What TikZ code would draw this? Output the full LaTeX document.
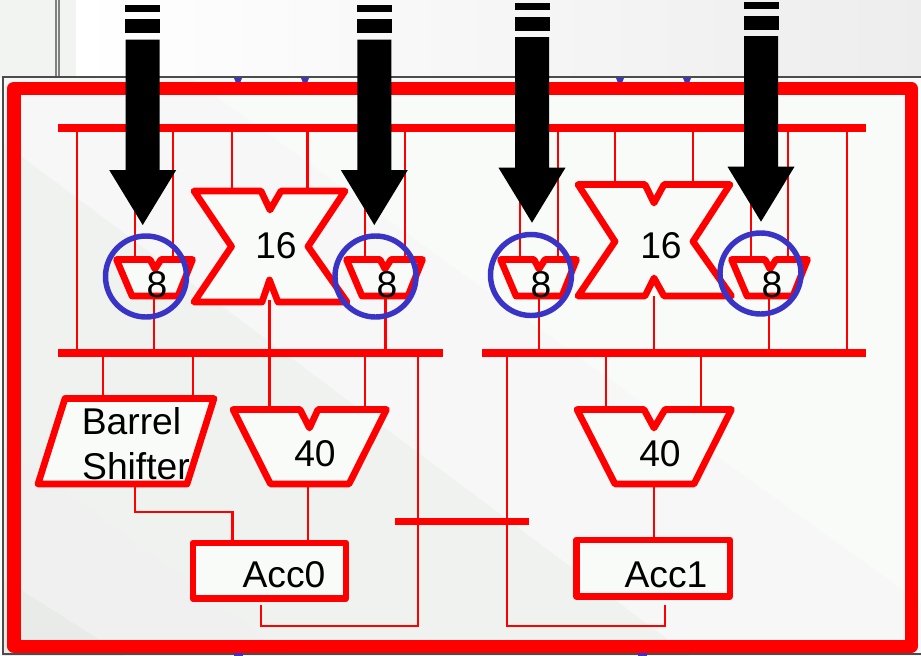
\documentclass[tikz,border=0pt]{standalone}
\usepackage{fontspec}
\setmainfont{Liberation Sans}
\definecolor{panelred}{HTML}{FF0000}
\definecolor{ringblue}{HTML}{3A34C6}
\definecolor{unitfill}{HTML}{F8FBF8}
\tikzset{
    busline/.style={panelred, line width=4.6pt},
    wire/.style={panelred, line width=1.6pt},
    unit/.style={draw=panelred, fill=unitfill, line width=3.8pt, line join=round},
    ring/.style={draw=ringblue, line width=3.1pt},
    tag/.style={font=\fontsize{21.2}{25}\selectfont, inner sep=0pt, text=black}
}
\begin{document}
\begin{tikzpicture}[x=0.02cm,y=-0.02cm]
    \useasboundingbox (0,0) rectangle (921,656);

    % Draw the backdrop
    \fill[color={rgb,255:red,242;green,244;blue,242}] (0,0) rectangle (921,78);
    \shade[left color=white, right color=black!7] (76,0) rectangle (921,77);
    \draw[gray, line width=0.6pt] (56,0) -- (56,77) (59,0) -- (59,77);

    % Draw the panel and its bands
    \fill[color={rgb,255:red,248;green,251;blue,248}] (2,78) rectangle (921,656);
    \fill[color={rgb,255:red,247;green,247;blue,248}] (2,78) -- (190,78) -- (921,603) -- (921,656) -- (2,656) -- cycle;
    \fill[color={rgb,255:red,239;green,242;blue,239}] (2,142) -- (690,656) -- (2,656) -- cycle;
    \fill[color={rgb,255:red,240;green,240;blue,240}] (2,445) -- (290,656) -- (2,656) -- cycle;
    \fill[color={rgb,255:red,233;green,235;blue,233}] (2,578) -- (125,656) -- (2,656) -- cycle;
    \draw[black!70, line width=0.7pt] (921,77) -- (3,77) -- (3,654) -- (921,654);

    % Blue ticks behind the frame
    \foreach \x in {238,305,620,687} {
        \fill[ringblue] (\x-4,78) -- (\x+4,78) -- (\x,88) -- cycle;
    }
    \foreach \x in {238,642} {
        \fill[ringblue] (\x-4.5,650) rectangle (\x+4.5,656);
    }
    \draw[panelred, line width=7.4pt, line join=round] (14,88) rectangle (911,646.5);

    % Bus ends
    \coordinate (busTopL) at (58,128);
    \coordinate (busTopR) at (866,128);
    \coordinate (busLeftL) at (58,353);
    \coordinate (busLeftR) at (443,353);
    \coordinate (busRightL) at (482,353);
    \coordinate (busRightR) at (866,353);
    \coordinate (crossL) at (395,521.5);
    \coordinate (crossR) at (529,521.5);

    % Wires from the top bus
    \foreach \x/\y in {77/353,135/260,173/260,232/190,307.5/190,365/260,405/260,
                       520/260,558/260,615/185,693/185,751/260,788/260,847/353} {
        \draw[wire] (\x,0 |- busTopL) -- (\x,\y);
    }
    % Wires into the lower buses
    \foreach \x/\y in {154/296,269.5/300,385.5/296} {
        \draw[wire] (\x,\y) -- (\x,0 |- busLeftL);
    }
    \foreach \x/\y in {539/296,654/296,769/296} {
        \draw[wire] (\x,\y) -- (\x,0 |- busRightL);
    }
    % Wires below the lower buses
    \foreach \x/\y in {103/398,193/398,269.5/409,365/409} {
        \draw[wire] (\x,0 |- busLeftL) -- (\x,\y);
    }
    \foreach \x/\y in {606/409,701/409} {
        \draw[wire] (\x,0 |- busRightL) -- (\x,\y);
    }

    % Wires around the accumulators
    \coordinate (shiftOut) at (135,484);
    \coordinate (acc0In) at (232.5,543);
    \coordinate (add0Out) at (308,484);
    \coordinate (acc0Top) at (308,543);
    \coordinate (add1Out) at (654,484);
    \coordinate (acc1Top) at (654,540);
    \coordinate (acc0Out) at (261,605);
    \coordinate (acc1Out) at (665,605);
    \draw[wire] (shiftOut) |- (222,512) -| (acc0In);
    \draw[wire] (add0Out) -- (acc0Top);
    \draw[wire] (add1Out) -- (acc1Top);
    \draw[wire] (acc0Out) |- (418,626) -- (418,0 |- busLeftL);
    \draw[wire] (acc1Out) |- (507,626) -- (507,0 |- busRightL);

    % Draw the buses
    \draw[busline] (busTopL) -- (busTopR);
    \draw[busline] (busLeftL) -- (busLeftR);
    \draw[busline] (busRightL) -- (busRightR);
    \draw[busline, line width=4pt] (crossL) -- (crossR);

    % Multipliers
    \draw[unit] (194,191) -- (261,191) -- (270,210) -- (281,191) -- (345,191) -- (308,246.5)
        -- (347,302) -- (278,302) -- (269.5,280) -- (262,302) -- (194,302) -- (231.5,246.5) -- cycle;
    \draw[unit] (578,184.5) -- (645,184.5) -- (654,203) -- (664,184.5) -- (730,184.5) -- (693,241.5)
        -- (731.5,296) -- (664,296) -- (654,278) -- (645,296) -- (578,296) -- (615,241.5) -- cycle;
    \node[tag] (mult0) at (276,246) {16};
    \node[tag] (mult1) at (661,246) {16};

    % Small adders
    \foreach \dx/\i in {0/0,230/1,384/2,615/3} {
        \begin{scope}[shift={(\dx,0)}]
            \draw[unit] (116.5,259.5) -- (150,259.5) -- (155,269) -- (161,259.5) -- (192.5,259.5)
                -- (178,296) -- (132,296) -- cycle;
            \node[tag] (small\i) at (157,285) {8};
        \end{scope}
    }

    % Large adders
    \draw[unit] (233,409.5) -- (300,409.5) -- (309.5,428) -- (318,409.5) -- (386.5,409.5)
        -- (349,484) -- (270.5,484) -- cycle;
    \draw[unit] (577,409.5) -- (644,409.5) -- (654,428) -- (665,409.5) -- (731.5,409.5)
        -- (694,484) -- (615,484) -- cycle;
    \node[tag] (add0) at (315,454) {40};
    \node[tag] (add1) at (660,454) {40};

    % Barrel shifter
    \draw[unit] (65,398.5) -- (214,398.5) -- (187,484) -- (38,484) -- cycle;
    \node[tag] (barrel) at (131.5,421) {Barrel};
    \node[tag] (shifter) at (136,466) {Shifter};

    % Accumulators
    \draw[unit] (193,543) rectangle (346,598.5);
    \draw[unit] (576.5,540) rectangle (730,596.5);
    \node[tag] (acc0) at (284,575) {Acc0};
    \node[tag] (acc1) at (666,575) {Acc1};

    % Blue rings
    \foreach \x/\y in {146/276.5,375.5/276.5,531/275,760.5/273.5} {
        \draw[ring] (\x,\y) circle (40.5);
    }

    % Black arrows
    \foreach \x/\dy in {142.7/0,374.3/0,532/-2.3,761/-3.3} {
        \begin{scope}[shift={(\x,\dy)}]
            \fill[black] (-17.5,5) rectangle (17.5,12);
            \fill[black] (-17.5,19) rectangle (17.5,33);
            \fill[black] (-17,39.5) -- (17,39.5) -- (17,170) -- (33.5,170) -- (0,225)
                -- (-33.5,170) -- (-17,170) -- cycle;
        \end{scope}
    }
\end{tikzpicture}
\end{document}
